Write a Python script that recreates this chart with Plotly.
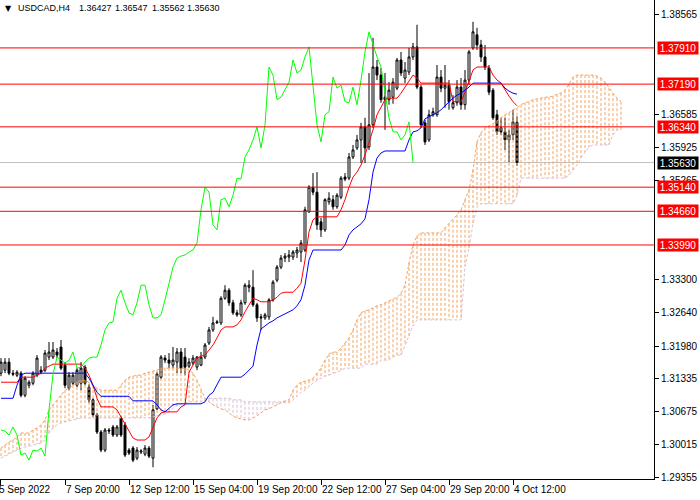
import plotly.graph_objects as go

# ---------------- data (USDCAD H4, bar index 0..129) ----------------
opens = [
    1.3144, 1.3150, 1.3166, 1.3144, 1.3140, 1.3144, 1.3100, 1.3120, 1.3124, 1.3140,
    1.3150, 1.3150, 1.3176, 1.3176, 1.3186, 1.3196, 1.3160, 1.3114, 1.3124, 1.3120,
    1.3124, 1.3156, 1.3116, 1.3091, 1.3061, 1.3027, 1.2991, 1.3031, 1.3037, 1.3021,
    1.3055, 1.3041, 1.2991, 1.2995, 1.2975, 1.2987, 1.2983, 1.2995, 1.2975, 1.3073,
    1.3136, 1.3174, 1.3170, 1.3160, 1.3166, 1.3186, 1.3176, 1.3158, 1.3164, 1.3156,
    1.3160, 1.3176, 1.3204, 1.3230, 1.3244, 1.3244, 1.3293, 1.3309, 1.3284, 1.3264,
    1.3260, 1.3284, 1.3315, 1.3315, 1.3280, 1.3256, 1.3254, 1.3256, 1.3290, 1.3329,
    1.3355, 1.3373, 1.3375, 1.3375, 1.3383, 1.3385, 1.3389, 1.3465, 1.3514, 1.3504,
    1.3445, 1.3429, 1.3485, 1.3489, 1.3475, 1.3494, 1.3534, 1.3532, 1.3574, 1.3592,
    1.3608, 1.3634, 1.3594, 1.3638, 1.3753, 1.3737, 1.3688, 1.3688, 1.3693, 1.3711,
    1.3767, 1.3731, 1.3743, 1.3773, 1.3793, 1.3713, 1.3642, 1.3608, 1.3658, 1.3658,
    1.3733, 1.3711, 1.3717, 1.3672, 1.3682, 1.3713, 1.3678, 1.3727, 1.3791, 1.3817,
    1.3797, 1.3773, 1.3751, 1.3707, 1.3658, 1.3632, 1.3624, 1.3608, 1.3618, 1.36427,
]
highs = [
    1.3174, 1.3174, 1.3174, 1.3150, 1.3150, 1.3148, 1.3138, 1.3130, 1.3148, 1.3180,
    1.3158, 1.3190, 1.3206, 1.3206, 1.3194, 1.3210, 1.3166, 1.3146, 1.3146, 1.3154,
    1.3166, 1.3160, 1.3122, 1.3094, 1.3065, 1.3031, 1.3035, 1.3035, 1.3041, 1.3041,
    1.3059, 1.3047, 1.2995, 1.2999, 1.2997, 1.2993, 1.3001, 1.2999, 1.3081, 1.3146,
    1.3180, 1.3180, 1.3184, 1.3196, 1.3194, 1.3194, 1.3194, 1.3174, 1.3180, 1.3178,
    1.3186, 1.3204, 1.3236, 1.3256, 1.3250, 1.3297, 1.3319, 1.3313, 1.3290, 1.3270,
    1.3290, 1.3323, 1.3329, 1.3349, 1.3284, 1.3262, 1.3264, 1.3293, 1.3329, 1.3359,
    1.3379, 1.3383, 1.3389, 1.3389, 1.3395, 1.3409, 1.3475, 1.3518, 1.3542, 1.3544,
    1.3453, 1.3492, 1.3504, 1.3498, 1.3502, 1.3536, 1.3542, 1.3582, 1.3598, 1.3618,
    1.3642, 1.3652, 1.3741, 1.3811, 1.3767, 1.3751, 1.3741, 1.3723, 1.3731, 1.3771,
    1.3783, 1.3763, 1.3791, 1.3801, 1.3837, 1.3717, 1.3648, 1.3668, 1.3672, 1.3757,
    1.3747, 1.3757, 1.3727, 1.3697, 1.3727, 1.3731, 1.3747, 1.3787, 1.3843, 1.3831,
    1.3807, 1.3797, 1.3757, 1.3711, 1.3668, 1.3652, 1.3652, 1.3628, 1.3668, 1.36547,
]
lows = [
    1.3138, 1.3144, 1.3140, 1.3138, 1.3136, 1.3096, 1.3096, 1.3114, 1.3120, 1.3136,
    1.3142, 1.3146, 1.3170, 1.3172, 1.3174, 1.3150, 1.3114, 1.3110, 1.3120, 1.3116,
    1.3110, 1.3120, 1.3085, 1.3057, 1.3023, 1.2987, 1.2987, 1.3023, 1.3017, 1.3017,
    1.3017, 1.2977, 1.2981, 1.2967, 1.2971, 1.2983, 1.2979, 1.2975, 1.2957, 1.3071,
    1.3132, 1.3164, 1.3154, 1.3154, 1.3144, 1.3144, 1.3140, 1.3154, 1.3160, 1.3150,
    1.3158, 1.3172, 1.3200, 1.3226, 1.3242, 1.3240, 1.3290, 1.3278, 1.3260, 1.3256,
    1.3256, 1.3280, 1.3305, 1.3276, 1.3246, 1.3230, 1.3250, 1.3250, 1.3286, 1.3325,
    1.3351, 1.3365, 1.3365, 1.3369, 1.3373, 1.3365, 1.3385, 1.3463, 1.3498, 1.3429,
    1.3415, 1.3425, 1.3479, 1.3469, 1.3471, 1.3490, 1.3526, 1.3528, 1.3570, 1.3588,
    1.3562, 1.3562, 1.3588, 1.3632, 1.3727, 1.3682, 1.3628, 1.3678, 1.3680, 1.3707,
    1.3735, 1.3721, 1.3737, 1.3767, 1.3709, 1.3632, 1.3598, 1.3604, 1.3654, 1.3654,
    1.3703, 1.3672, 1.3668, 1.3668, 1.3676, 1.3668, 1.3668, 1.3717, 1.3787, 1.3787,
    1.3763, 1.3747, 1.3697, 1.3648, 1.3618, 1.3618, 1.3588, 1.3564, 1.3608, 1.35562,
]
closes = [
    1.3166, 1.3166, 1.3144, 1.3142, 1.3146, 1.3100, 1.3134, 1.3126, 1.3144, 1.3174,
    1.3146, 1.3184, 1.3186, 1.3190, 1.3180, 1.3154, 1.3120, 1.3140, 1.3140, 1.3150,
    1.3154, 1.3124, 1.3091, 1.3061, 1.3027, 1.2991, 1.3031, 1.3029, 1.3021, 1.3037,
    1.3021, 1.2981, 1.2985, 1.2971, 1.2991, 1.2989, 1.2995, 1.2979, 1.3071, 1.3142,
    1.3176, 1.3170, 1.3164, 1.3170, 1.3186, 1.3154, 1.3156, 1.3166, 1.3174, 1.3176,
    1.3176, 1.3200, 1.3230, 1.3244, 1.3246, 1.3293, 1.3309, 1.3284, 1.3264, 1.3260,
    1.3284, 1.3319, 1.3319, 1.3280, 1.3254, 1.3254, 1.3260, 1.3290, 1.3325, 1.3355,
    1.3373, 1.3377, 1.3379, 1.3385, 1.3389, 1.3403, 1.3469, 1.3514, 1.3504, 1.3439,
    1.3429, 1.3489, 1.3492, 1.3475, 1.3498, 1.3532, 1.3530, 1.3574, 1.3588, 1.3608,
    1.3634, 1.3592, 1.3638, 1.3753, 1.3737, 1.3688, 1.3693, 1.3707, 1.3723, 1.3767,
    1.3741, 1.3747, 1.3773, 1.3793, 1.3713, 1.3638, 1.3604, 1.3658, 1.3664, 1.3733,
    1.3711, 1.3717, 1.3684, 1.3682, 1.3713, 1.3678, 1.3727, 1.3783, 1.3823, 1.3797,
    1.3773, 1.3753, 1.3703, 1.3652, 1.3624, 1.3624, 1.3608, 1.3618, 1.3644, 1.35630,
]

# Ichimoku lines
tenkan = [
    1.3126, 1.3126, 1.3126, 1.3126, 1.3126, 1.3136, 1.3136, 1.3136, 1.3136, 1.3140,
    1.3144, 1.3154, 1.3158, 1.3162, 1.3162, 1.3162, 1.3162, 1.3162, 1.3162, 1.3162,
    1.3162, 1.3154, 1.3140, 1.3120, 1.3094, 1.3077, 1.3077, 1.3077, 1.3077, 1.3071,
    1.3057, 1.3041, 1.3027, 1.3015, 1.3011, 1.3011, 1.3011, 1.3017, 1.3035, 1.3055,
    1.3065, 1.3067, 1.3067, 1.3067, 1.3067, 1.3077, 1.3081, 1.3146, 1.3160, 1.3174,
    1.3178, 1.3180, 1.3190, 1.3200, 1.3214, 1.3230, 1.3236, 1.3236, 1.3236, 1.3240,
    1.3250, 1.3266, 1.3280, 1.3293, 1.3290, 1.3286, 1.3286, 1.3286, 1.3290, 1.3295,
    1.3303, 1.3305, 1.3305, 1.3305, 1.3313, 1.3323, 1.3369, 1.3425, 1.3449, 1.3455,
    1.3455, 1.3455, 1.3455, 1.3455, 1.3455, 1.3469, 1.3489, 1.3514, 1.3534, 1.3544,
    1.3558, 1.3578, 1.3602, 1.3628, 1.3658, 1.3674, 1.3688, 1.3691, 1.3691, 1.3691,
    1.3701, 1.3713, 1.3727, 1.3737, 1.3731, 1.3721, 1.3721, 1.3721, 1.3721, 1.3721,
    1.3721, 1.3721, 1.3721, 1.3684, 1.3684, 1.3684, 1.3703, 1.3727, 1.3747, 1.3753,
    1.3753, 1.3753, 1.3753, 1.3737, 1.3727, 1.3721, 1.3707, 1.3695, 1.3684, 1.3676,
]
kijun = [
    1.3094, 1.3094, 1.3094, 1.3094, 1.3120, 1.3140, 1.3144, 1.3144, 1.3144, 1.3144,
    1.3144, 1.3144, 1.3144, 1.3144, 1.3144, 1.3144, 1.3144, 1.3144, 1.3144, 1.3144,
    1.3144, 1.3144, 1.3134, 1.3120, 1.3106, 1.3098, 1.3098, 1.3098, 1.3098, 1.3098,
    1.3098, 1.3098, 1.3098, 1.3089, 1.3089, 1.3089, 1.3089, 1.3089, 1.3089, 1.3081,
    1.3071, 1.3067, 1.3075, 1.3081, 1.3083, 1.3083, 1.3083, 1.3083, 1.3083, 1.3083,
    1.3083, 1.3087, 1.3100, 1.3106, 1.3120, 1.3136, 1.3136, 1.3136, 1.3136, 1.3136,
    1.3136, 1.3142, 1.3150, 1.3158, 1.3200, 1.3232, 1.3238, 1.3244, 1.3248, 1.3254,
    1.3258, 1.3262, 1.3266, 1.3270, 1.3278, 1.3290, 1.3319, 1.3369, 1.3389, 1.3389,
    1.3389, 1.3389, 1.3389, 1.3389, 1.3389, 1.3389, 1.3399, 1.3419, 1.3429, 1.3435,
    1.3441, 1.3451, 1.3489, 1.3544, 1.3572, 1.3582, 1.3586, 1.3586, 1.3586, 1.3586,
    1.3586, 1.3586, 1.3608, 1.3624, 1.3626, 1.3632, 1.3650, 1.3654, 1.3658, 1.3662,
    1.3668, 1.3676, 1.3684, 1.3691, 1.3697, 1.3701, 1.3707, 1.3713, 1.3721, 1.3721,
    1.3721, 1.3721, 1.3721, 1.3721, 1.3721, 1.3721, 1.3711, 1.3705, 1.3701, 1.3699,
]
span_a = [
    1.2995, 1.3001, 1.3007, 1.3011, 1.3017, 1.3025, 1.3025, 1.3025, 1.3031, 1.3035,
    1.3041, 1.3051, 1.3071, 1.3081, 1.3091, 1.3100, 1.3110, 1.3114, 1.3120, 1.3126,
    1.3130, 1.3130, 1.3126, 1.3120, 1.3114, 1.3110, 1.3110, 1.3110, 1.3110, 1.3110,
    1.3120, 1.3130, 1.3136, 1.3138, 1.3140, 1.3140, 1.3144, 1.3146, 1.3148, 1.3150,
    1.3154, 1.3154, 1.3154, 1.3154, 1.3154, 1.3154, 1.3154, 1.3150, 1.3144, 1.3130,
    1.3110, 1.3094, 1.3087, 1.3081, 1.3077, 1.3073, 1.3071, 1.3065, 1.3059, 1.3055,
    1.3053, 1.3051, 1.3051, 1.3055, 1.3059, 1.3065, 1.3071, 1.3073, 1.3077, 1.3081,
    1.3085, 1.3089, 1.3091, 1.3110, 1.3120, 1.3126, 1.3128, 1.3130, 1.3134, 1.3144,
    1.3154, 1.3170, 1.3182, 1.3186, 1.3186, 1.3194, 1.3204, 1.3214, 1.3230, 1.3250,
    1.3264, 1.3268, 1.3270, 1.3274, 1.3278, 1.3280, 1.3284, 1.3288, 1.3291, 1.3295,
    1.3303, 1.3319, 1.3363, 1.3399, 1.3417, 1.3423, 1.3423, 1.3423, 1.3423, 1.3423,
    1.3423, 1.3433, 1.3441, 1.3449, 1.3459, 1.3469, 1.3489, 1.3508, 1.3548, 1.3604,
    1.3622, 1.3632, 1.3636, 1.3640, 1.3646, 1.3652, 1.3658, 1.3662, 1.3668, 1.3672,
    1.3678, 1.3682, 1.3684, 1.3688, 1.3689, 1.3691, 1.3693, 1.3693, 1.3695, 1.3699,
    1.3701, 1.3707, 1.3719, 1.3733, 1.3737, 1.3737, 1.3737, 1.3737, 1.3737, 1.3735,
    1.3731, 1.3723, 1.3711, 1.3701, 1.3691, 1.3684,
]
span_b = [
    1.2975, 1.2979, 1.2983, 1.2987, 1.2991, 1.2995, 1.2997, 1.2999, 1.3001, 1.3003,
    1.3005, 1.3011, 1.3025, 1.3035, 1.3041, 1.3045, 1.3047, 1.3049, 1.3051, 1.3053,
    1.3055, 1.3055, 1.3055, 1.3055, 1.3055, 1.3055, 1.3055, 1.3055, 1.3055, 1.3055,
    1.3055, 1.3055, 1.3055, 1.3055, 1.3055, 1.3055, 1.3055, 1.3055, 1.3057, 1.3059,
    1.3061, 1.3063, 1.3067, 1.3075, 1.3079, 1.3083, 1.3085, 1.3087, 1.3087, 1.3087,
    1.3087, 1.3089, 1.3094, 1.3094, 1.3094, 1.3094, 1.3094, 1.3094, 1.3091, 1.3091,
    1.3091, 1.3087, 1.3087, 1.3087, 1.3087, 1.3087, 1.3087, 1.3087, 1.3087, 1.3087,
    1.3087, 1.3085, 1.3085, 1.3091, 1.3098, 1.3106, 1.3110, 1.3118, 1.3124, 1.3130,
    1.3134, 1.3138, 1.3140, 1.3144, 1.3146, 1.3150, 1.3154, 1.3154, 1.3154, 1.3154,
    1.3154, 1.3162, 1.3162, 1.3162, 1.3162, 1.3170, 1.3170, 1.3170, 1.3176, 1.3180,
    1.3180, 1.3200, 1.3216, 1.3238, 1.3250, 1.3250, 1.3250, 1.3250, 1.3250, 1.3250,
    1.3250, 1.3250, 1.3250, 1.3250, 1.3250, 1.3250, 1.3357, 1.3393, 1.3441, 1.3475,
    1.3481, 1.3481, 1.3481, 1.3481, 1.3481, 1.3481, 1.3481, 1.3481, 1.3481, 1.3498,
    1.3532, 1.3532, 1.3532, 1.3532, 1.3532, 1.3532, 1.3532, 1.3532, 1.3532, 1.3532,
    1.3532, 1.3532, 1.3538, 1.3548, 1.3558, 1.3572, 1.3584, 1.3594, 1.3598, 1.3598,
    1.3598, 1.3598, 1.3598, 1.3618, 1.3628, 1.3628,
]
chikou_shift = 26

# horizontal levels and labels
levels = [1.3791, 1.3719, 1.3634, 1.3514, 1.3466, 1.3399]
level_labels = ["1.37910", "1.37190", "1.36340", "1.35140", "1.34660", "1.33990"]
bid = 1.35630
bid_label = "1.35630"

price_ticks = [1.38565, 1.36585, 1.35925, 1.35265,
               1.33300, 1.32640, 1.31980, 1.31335, 1.30675, 1.30015, 1.29355]
price_tick_text = ["1.38565", "1.36585", "1.35925", "1.35265",
                   "1.33300", "1.32640", "1.31980", "1.31335", "1.30675", "1.30015", "1.29355"]

time_pos = [-1, 16, 32, 48, 64, 80, 96, 112, 128]
time_text = ["5 Sep 2022", "7 Sep 20:00", "12 Sep 12:00", "15 Sep 04:00", "19 Sep 20:00",
             "22 Sep 12:00", "27 Sep 04:00", "29 Sep 20:00", "4 Oct 12:00"]

title_parts = ["USDCAD,H4", "1.36427", "1.36547", "1.35562", "1.35630"]

# ---------------- figure ----------------
FONT = "Liberation Sans"
SANDY = "#F4A460"
THISTLE = "#D8BFD8"
X_RANGE = [-0.25, 163.25]

bars = list(range(len(opens)))
fut = list(range(len(span_a)))

fig = go.Figure()

fig.add_trace(go.Candlestick(
    x=bars, open=opens, high=highs, low=lows, close=closes,
    increasing=dict(line=dict(color="black", width=1), fillcolor="white"),
    decreasing=dict(line=dict(color="black", width=1), fillcolor="black"),
    whiskerwidth=0, hoverinfo="skip", showlegend=False,
))

# cloud hatching
hx_o, hy_o, hx_t, hy_t = [], [], [], []
for i, (a, b) in zip(fut, zip(span_a, span_b)):
    if a >= b:
        hx_o += [i, i, None]
        hy_o += [a, b, None]
    else:
        hx_t += [i, i, None]
        hy_t += [b, a, None]
fig.add_trace(go.Scatter(x=hx_o, y=hy_o, mode="lines",
                         line=dict(color=SANDY, width=1, dash="3px,2px"),
                         hoverinfo="skip", showlegend=False))
fig.add_trace(go.Scatter(x=hx_t, y=hy_t, mode="lines",
                         line=dict(color=THISTLE, width=1, dash="3px,2px"),
                         hoverinfo="skip", showlegend=False))
fig.add_trace(go.Scatter(x=fut, y=span_a, mode="lines",
                         line=dict(color=SANDY, width=1, dash="3px,2px"),
                         hoverinfo="skip", showlegend=False))
fig.add_trace(go.Scatter(x=fut, y=span_b, mode="lines",
                         line=dict(color=THISTLE, width=1, dash="3px,2px"),
                         hoverinfo="skip", showlegend=False))

fig.add_trace(go.Scatter(x=bars, y=tenkan, mode="lines",
                         line=dict(color="red", width=1), hoverinfo="skip", showlegend=False))
fig.add_trace(go.Scatter(x=bars, y=kijun, mode="lines",
                         line=dict(color="blue", width=1), hoverinfo="skip", showlegend=False))
chik_x = [i - chikou_shift for i in bars[chikou_shift:]]
fig.add_trace(go.Scatter(x=chik_x, y=closes[chikou_shift:], mode="lines",
                         line=dict(color="#00FF00", width=1), hoverinfo="skip", showlegend=False))

shapes = []
for lv in levels:
    shapes.append(dict(type="line", xref="paper", x0=0, x1=1, yref="y", y0=lv, y1=lv,
                       line=dict(color="red", width=1), layer="above"))
shapes.append(dict(type="line", xref="paper", x0=0, x1=1, yref="y", y0=bid, y1=bid,
                   line=dict(color="#C0C0C0", width=1), layer="below"))

ann = []
for lv, txt in zip(levels, level_labels):
    ann.append(dict(xref="paper", x=1, xanchor="left", xshift=3, yref="y", y=lv,
                    yanchor="middle", text=txt, showarrow=False, bgcolor="red",
                    font=dict(family=FONT, size=10, color="white"),
                    width=40, height=12, borderpad=0, align="center"))
ann.append(dict(xref="paper", x=1, xanchor="left", xshift=3, yref="y", y=bid,
                yanchor="middle", text=bid_label, showarrow=False, bgcolor="black",
                font=dict(family=FONT, size=10, color="white"),
                width=40, height=12, borderpad=0, align="center"))
tick_x = [max(p, X_RANGE[0] + 0.2) for p in time_pos]
for p, t in zip(tick_x, time_text):
    ann.append(dict(xref="x", x=p, xanchor="left", xshift=-1 if p > 0 else -4,
                    yref="paper", y=0, yanchor="top", yshift=-3, text=t, showarrow=False,
                    font=dict(family=FONT, size=10, color="black")))
# title line
ann.append(dict(xref="paper", x=0, xanchor="left", xshift=3, yref="paper", y=1,
                yanchor="middle", yshift=-8, text="▼", showarrow=False,
                font=dict(family="DejaVu Sans", size=8, color="black")))
title_x = [16, 77, 113, 150, 185]
for px, t in zip(title_x, title_parts):
    ann.append(dict(xref="paper", x=0, xanchor="left", xshift=px, yref="paper", y=1,
                    yanchor="middle", yshift=-8, text=t, showarrow=False,
                    font=dict(family=FONT, size=9, color="black")))

fig.update_layout(
    width=700, height=500,
    margin=dict(l=0, r=46, t=0, b=21, autoexpand=False),
    paper_bgcolor="white", plot_bgcolor="white", showlegend=False,
    font=dict(family=FONT, size=10, color="black"),
    xaxis=dict(range=X_RANGE, showgrid=False, zeroline=False, showline=True,
               linecolor="black", linewidth=1, ticks="outside", ticklen=5,
               tickcolor="black", tickvals=tick_x, showticklabels=False,
               rangeslider=dict(visible=False), fixedrange=True),
    yaxis=dict(range=[1.29335, 1.38863], side="right", showgrid=False, zeroline=False,
               showline=True, linecolor="black", linewidth=1, ticks="outside",
               ticklen=4, tickcolor="black", tickvals=price_ticks,
               ticktext=price_tick_text, tickfont=dict(family=FONT, size=10, color="black"),
               fixedrange=True),
    shapes=shapes, annotations=ann,
)

fig.write_html(
    "out.html",
    config={"displayModeBar": False},
    post_script="document.body.style.margin='0px';document.body.style.overflow='hidden';",
)
